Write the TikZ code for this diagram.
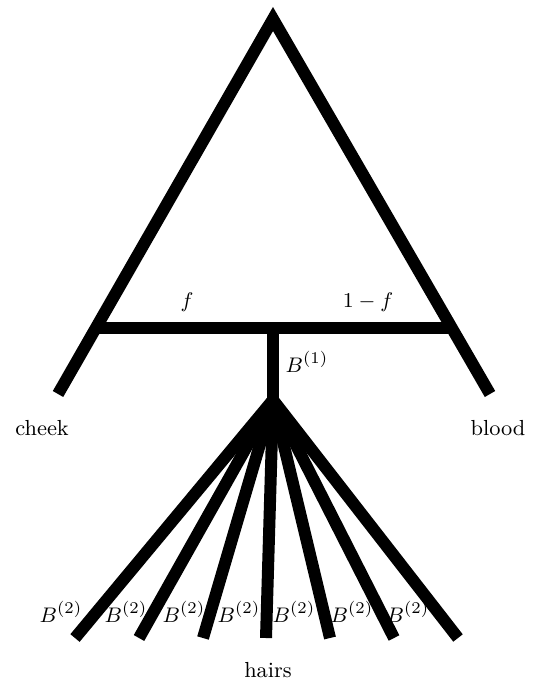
\documentclass[tikz,border=0pt]{standalone}
\usetikzlibrary{calc}

\begin{document}
\begin{tikzpicture}[x=0.015cm, y=-0.015cm, every node/.style={font=\fontsize{9.3}{11}\selectfont, inner sep=0pt},
		branch/.style={line width=0.18cm, line join=miter, line cap=butt},
		Blab/.style={anchor=center}]
			\useasboundingbox (0,0) rectangle (533,684);
			% triangle and bar
			\coordinate (top) at (273,19);
			\coordinate (lend) at (58,394);
			\coordinate (rend) at (490,394);
			\coordinate (bl) at ($(top)!0.824!(lend)$);
			\coordinate (br) at ($(top)!0.824!(rend)$);
			\coordinate (mid) at (273,328);
			\coordinate (fan) at (273,400);
			\draw[branch] (lend) -- (top) -- (rend);
			\draw[branch] (bl) -- (br);
			\draw[branch] (mid) -- (fan);
			% hairs
			\foreach \x [count=\i] in {75,139,203,266,330,394,458} {
				\coordinate (h\i) at (\x,638);
				\draw[branch] (fan) -- (h\i);
			}
			\foreach \x [count=\i] in {61,126,184,239,294,352,408} {
				\node[Blab] (b\i) at (\x,612) {$B^{(2)}$};
			}
			\node (f) at (187,302) {$f$};
			\node (g) at (368,302) {$1-f$};
			\node (b0) at (307,362) {$B^{(1)}$};
			\node (cheek) at (42,428) {cheek};
			\node (blood) at (498,428) {blood};
			\node (hairs) at (268,670) {hairs};
		\end{tikzpicture}
\end{document}
